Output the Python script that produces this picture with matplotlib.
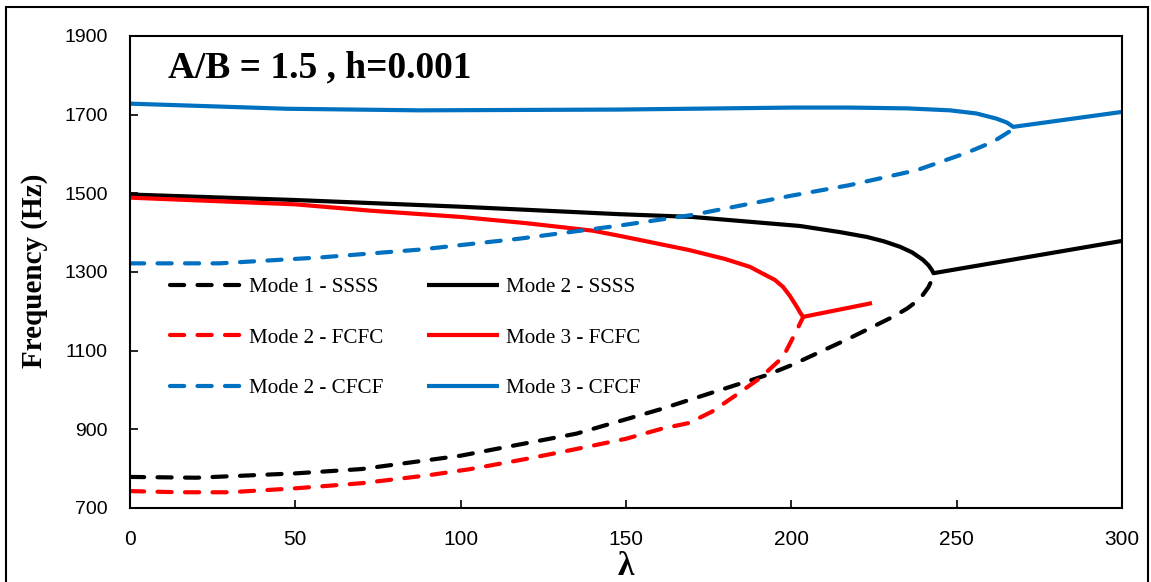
import matplotlib
matplotlib.use("Agg")
from matplotlib import pyplot as plt
from matplotlib.patches import Rectangle

plt.rcParams['font.family'] = ['Liberation Serif', 'DejaVu Serif']

# Mode 1 - SSSS (dashed black)
lam_m1_ssss = [0, 20, 50, 70, 100, 135, 160, 192.6, 200, 217.7, 230.7, 235, 238, 239.8, 241.5, 242.5, 243]
f_m1_ssss = [779, 777, 788, 799, 833, 889, 950, 1038, 1063, 1132, 1186, 1207, 1226, 1242, 1262, 1280, 1297]

# Mode 2 - SSSS (solid black)
lam_m2_ssss = [0, 50, 100, 148, 170, 202.6, 215, 222.9, 228, 232.9, 236.5, 239.8, 241.5, 242.5, 243, 300]
f_m2_ssss = [1497, 1483, 1466, 1447, 1440, 1417, 1401, 1389, 1378, 1364, 1350, 1331, 1317, 1305, 1297, 1379]

# Mode 2 - FCFC (dashed red)
lam_m2_fcfc = [0, 15, 30, 50, 70, 90, 103, 120, 135, 150, 161, 169, 176, 182.4, 190.5, 197.5, 201.7, 203.6]
f_m2_fcfc = [743, 740, 740, 750, 763, 783, 799, 825, 850, 876, 902, 916, 945, 982, 1030, 1084, 1153, 1186]

# Mode 3 - FCFC (solid red)
lam_m3_fcfc = [0, 50, 72.6, 100, 120, 140, 148, 169, 180, 187.5, 192, 195, 197.5, 199.5, 201.7, 202.8, 203.6, 224.4]
f_m3_fcfc = [1489, 1472, 1456, 1440, 1424, 1405, 1392, 1356, 1333, 1313, 1293, 1280, 1262, 1240, 1211, 1195, 1186, 1221]

# Mode 2 - CFCF (dashed blue)
lam_m2_cfcf = [0, 27, 57.5, 87.7, 118, 148, 170, 200, 217.7, 238, 253, 261, 266.7, 267.1]
f_m2_cfcf = [1322, 1322, 1337, 1357, 1385, 1418, 1445, 1494, 1521, 1559, 1603, 1631, 1661, 1669]

# Mode 3 - CFCF (solid blue)
lam_m3_cfcf = [0, 47.5, 87.7, 148, 200, 218, 235, 248, 256, 262, 265.2, 267.1, 300]
f_m3_cfcf = [1728, 1715, 1711, 1713, 1718, 1718, 1716, 1711, 1703, 1690, 1680, 1669, 1707]

BLUE = '#0070C0'
RED = '#FF0000'
BLACK = '#000000'
LW = 3.0
DASH = (3.4, 3.2)

fig = plt.figure(figsize=(11.51, 5.82), dpi=100)
ax = fig.add_axes([130 / 1151, 1 - 508 / 582, 992 / 1151, 472 / 582])

def dashed(x, y, c, label):
    ln, = ax.plot(x, y, color=c, lw=LW, label=label, dash_capstyle='round')
    ln.set_dashes(DASH)
    return ln

def solid(x, y, c, label):
    ln, = ax.plot(x, y, color=c, lw=LW, label=label, solid_capstyle='butt',
                  solid_joinstyle='round')
    return ln

l1 = dashed(lam_m1_ssss, f_m1_ssss, BLACK, 'Mode 1 - SSSS')
l2 = solid(lam_m2_ssss, f_m2_ssss, BLACK, 'Mode 2 - SSSS')
l3 = dashed(lam_m2_fcfc, f_m2_fcfc, RED, 'Mode 2 - FCFC')
l4 = solid(lam_m3_fcfc, f_m3_fcfc, RED, 'Mode 3 - FCFC')
l5 = dashed(lam_m2_cfcf, f_m2_cfcf, BLUE, 'Mode 2 - CFCF')
l6 = solid(lam_m3_cfcf, f_m3_cfcf, BLUE, 'Mode 3 - CFCF')

ax.set_xlim(0, 300)
ax.set_ylim(700, 1900)
ax.set_xticks(range(0, 301, 50))
ax.set_yticks(range(700, 1901, 200))
for s in ax.spines.values():
    s.set_linewidth(1.5)
ax.tick_params(direction='in', length=6, width=1.2)
ax.tick_params(axis='x', pad=16)
ax.tick_params(axis='y', pad=16)
for t in ax.get_xticklabels():
    t.set_family(['Liberation Sans', 'DejaVu Sans'])
    t.set_fontsize(15)
for t in ax.get_yticklabels():
    t.set_family(['Liberation Sans', 'DejaVu Sans'])
    t.set_fontsize(14)

ax.set_ylabel('Frequency (Hz)', fontsize=21, fontweight='bold', va='center')
ax.yaxis.set_label_coords(-0.096, 0.503)
ax.set_xlabel('λ', fontsize=24, fontweight='bold', va='center')
ax.xaxis.set_label_coords(0.5, -0.124)

ax.text(0.038, 0.932, 'A/B = 1.5 , h=0.001', transform=ax.transAxes,
        fontsize=27, fontweight='bold', va='center', ha='left')

# legend is filled column by column, so order handles to read row by row
ax.legend(handles=[l1, l3, l5, l2, l4, l6], ncol=2, frameon=False,
          loc='upper left', bbox_to_anchor=(0.040, 0.488), fontsize=15.2,
          handlelength=3.4, handletextpad=0.35, columnspacing=2.07,
          labelspacing=1.45, borderpad=0, borderaxespad=0)

# frame around the whole figure
fig.patches.append(Rectangle((6 / 1151, -0.02), 1142 / 1151, 1 - 7 / 582 + 0.02,
                             transform=fig.transFigure, fill=False,
                             edgecolor='black', lw=1.5))

fig.savefig('out.png', dpi=100)
